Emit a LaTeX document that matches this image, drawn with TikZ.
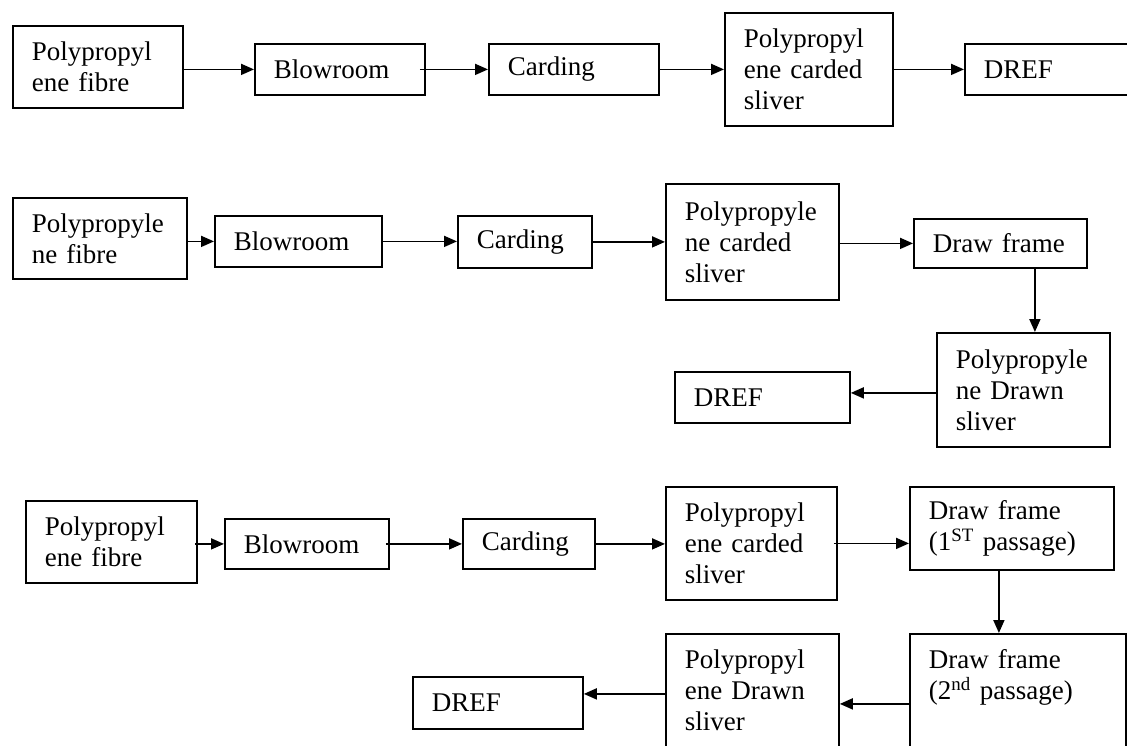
\documentclass[tikz,border=0pt]{standalone}
\usepackage{fontspec}
\setmainfont{Liberation Serif}
\usetikzlibrary{arrows.meta,calc}
\tikzset{
  box/.style={draw, line width=1.8pt, anchor=north west, align=left,
    inner xsep=19pt, inner ysep=0pt, font=\fontsize{27}{31}\selectfont, text=black},
  arr/.style={line width=1.8pt, -{Triangle[length=13pt,width=11pt]}},
}
\begin{document}
\begin{tikzpicture}[x=1pt,y=-1pt]
\useasboundingbox (0,0) rectangle (1127,745);
\clip (0,0) rectangle (1127,745);
% Row 1
\node[box, text width=132pt, minimum height=82pt]  (a1) at (12,25)  {Polypropyl\\ene fibre};
\node[box, text width=132pt, minimum height=51pt]  (b1) at (254,43) {Blowroom};
\node[box, text width=132pt, minimum height=51pt]  (c1) at (488,43) {Carding};
\node[box, text width=130pt, minimum height=113pt] (d1) at (724,12) {Polypropyl\\ene carded\\sliver};
\node[box, text width=137pt, minimum height=51pt]  (e1) at (964,43) {DREF};
\draw[arr] (a1.east |- b1.west) -- (b1.west);
\draw[arr] ($(b1.east)+(-6,0)$) -- (c1.west);
\draw[arr] (c1.east) -- (c1.east -| d1.west);
\draw[arr] (d1.east |- e1.west) -- (e1.west);
% Row 2
\node[box, text width=136pt, minimum height=81pt]  (a2) at (12,197)  {Polypropyle\\ne fibre};
\node[box, text width=129pt, minimum height=51pt]  (b2) at (214,215) {Blowroom};
\node[box, text width=96pt,  minimum height=52pt]  (c2) at (457,215) {Carding};
\node[box, text width=135pt, minimum height=116pt] (d2) at (665,183) {Polypropyle\\ne carded\\sliver};
\node[box, text width=135pt, minimum height=49pt]  (e2) at (913,218) {Draw frame};
\node[box, text width=135pt, minimum height=114pt] (f2) at (936,332) {Polypropyle\\ne Drawn\\sliver};
\node[box, text width=137pt, minimum height=51pt]  (g2) at (674,371) {DREF};
\draw[arr] (a2.east |- b2.west) -- (b2.west);
\draw[arr] (b2.east) -- (b2.east -| c2.west);
\draw[arr] (c2.east) -- (c2.east -| d2.west);
\draw[arr] (d2.east |- e2.west) -- (e2.west);
\draw[arr] ($(e2.south)+(34.5,0)$) -- ($(e2.south |- f2.north)+(34.5,0)$);
\draw[arr] ($(f2.west)+(0,3)$) -- ($(g2.east |- f2.west)+(0,3)$);
% Row 3
\node[box, text width=133pt, minimum height=82pt]  (a3) at (25,500)  {Polypropyl\\ene fibre};
\node[box, text width=126pt, minimum height=50pt]  (b3) at (224,518) {Blowroom};
\node[box, text width=94pt,  minimum height=50pt]  (c3) at (462,518) {Carding};
\node[box, text width=133pt, minimum height=113pt] (d3) at (665,486) {Polypropyl\\ene carded\\sliver};
\node[box, text width=166pt, minimum height=83pt]  (e3) at (909,486) {Draw frame\\(1\textsuperscript{ST} passage)};
\node[box, text width=178pt, text height=35pt, text depth=120pt] (f3) at (909,633) {Draw frame\\(2\textsuperscript{nd} passage)};
\node[box, text width=132pt, minimum height=52pt]  (g3) at (412,676) {DREF};
\node[box, text width=135pt, minimum height=113pt] (h3) at (665,633) {Polypropyl\\ene Drawn\\sliver};
\draw[arr] ($(a3.east |- b3.west)+(-3,0)$) -- (b3.west);
\draw[arr] ($(b3.east)+(-4,0)$) -- (c3.west);
\draw[arr] (c3.east) -- (c3.east -| d3.west);
\draw[arr] ($(d3.east)+(-4,0)$) -- (d3.east -| e3.west);
\draw[arr] ($(e3.south)+(-13,0)$) -- ($(e3.south |- f3.north)+(-13,0)$);
\draw[arr] ($(f3.west |- h3.east)+(0,13.5)$) -- ($(h3.east)+(0,13.5)$);
\draw[arr] ($(h3.west)+(0,3.5)$) -- ($(g3.east |- h3.west)+(0,3.5)$);
\end{tikzpicture}
\end{document}
